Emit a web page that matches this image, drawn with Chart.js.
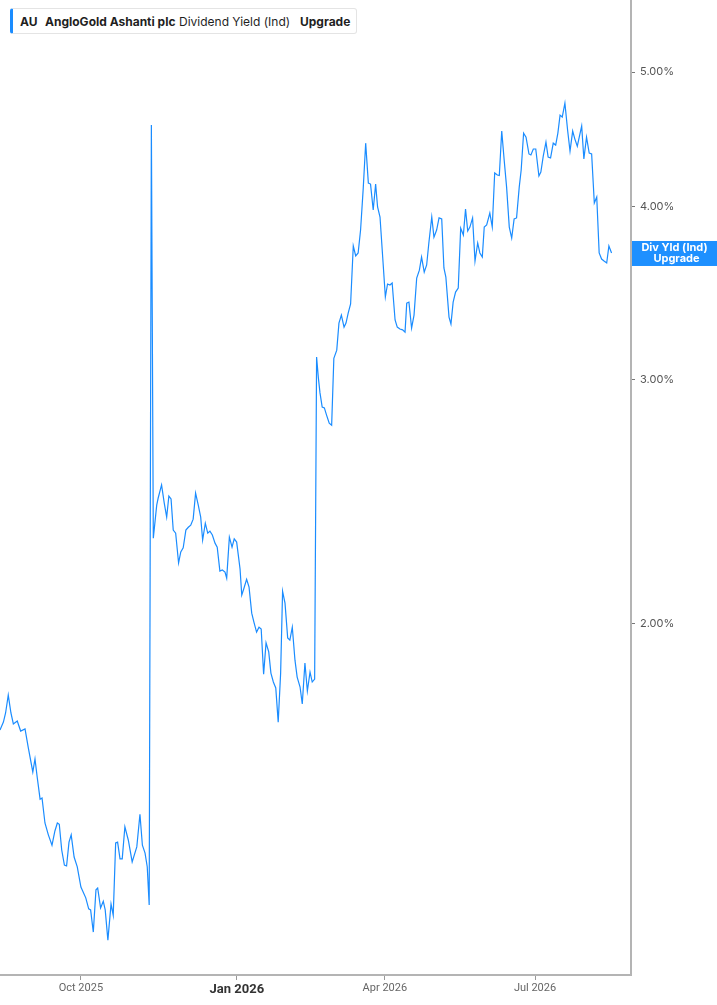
<!DOCTYPE html>
<html>
<head>
<meta charset="utf-8">
<script src="https://cdn.jsdelivr.net/npm/chart.js@4/dist/chart.umd.min.js"></script>
<style>
  body { margin: 0; background: #fff; }
  #wrap { position: relative; width: 717px; height: 1005px; }
  .legend {
    position: absolute; left: 10px; top: 8px; width: 343px; height: 24px;
    border: 1px solid #e4e4e4; border-left: 3px solid #1a8cff; border-radius: 3px;
    font-family: Inter, "Open Sans", sans-serif; font-size: 12px; color: #1f1f1f;
    background: #fff; z-index: 2;
  }
  .legend span { position: absolute; top: 5px; white-space: nowrap; }
  .b { font-weight: 700; }
</style>
</head>
<body>
<div id="wrap">
  <div class="legend">
    <span class="b" style="left:7px">AU</span>
    <span class="b" style="left:32px">AngloGold Ashanti plc</span>
    <span style="left:166px">Dividend Yield (Ind)</span>
    <span class="b" style="left:287px">Upgrade</span>
  </div>
  <canvas id="chart"></canvas>
</div>
<script>
// trading-day index from the start of the window
const dayIdx = [0,1.4,2.3,3.4,4.5,5.5,7.1,8.5,10.3,11.6,13.5,14.4,15.3,16.5,17.3,18.5,19.9,21.4,22.6,23.6,24.4,25.4,26.5,27.4,28.4,29.3,30.5,31.8,33.3,35.3,36.5,37.3,38.4,39.5,40.2,41.4,42.5,43.3,44.4,45.7,46.6,47.6,48.4,49.4,50.3,51.4,52.8,54.4,56.3,57.6,58.6,59.7,60.6,61.4,62.3,63.1,64.5,65.1,66.5,67.6,68.6,69.5,70.4,71.3,72.3,73.5,74.4,75.4,76.5,77.5,78.5,79.5,80.5,81.6,82.6,83.4,84.5,85.5,86.4,87.4,88.5,89.4,90.5,91.5,92.6,93.3,94.4,95.5,96.4,97.4,98.8,99.5,100.4,101.5,102.5,103.6,104.5,105.6,106.6,107.5,108.5,109.5,110.6,111.5,112.5,113.5,114.5,115.5,116.3,117.3,118.4,119.3,120.3,121.4,122.3,123.5,124.4,125.5,126.5,127.6,128.5,129.5,130.3,131.0,131.7,132.6,133.5,134.4,135.5,136.5,137.4,138.6,139.5,140.5,141.6,142.4,143.3,144.3,145.4,146.4,147.4,148.4,149.5,150.5,151.6,152.5,153.6,154.6,155.4,156.4,157.5,158.6,159.5,160.5,161.4,162.6,163.5,164.6,165.7,166.7,167.4,168.3,169.4,170.4,171.5,172.6,173.5,174.6,175.6,176.5,177.7,178.6,179.7,180.7,181.8,182.7,183.5,184.8,185.6,186.5,187.5,188.6,189.6,190.7,191.6,192.5,193.4,194.5,195.5,196.6,197.5,198.5,199.3,200.3,201.6,202.6,203.6,204.7,205.5,206.5,207.5,208.5,209.6,210.6,211.6,212.6,213.7,214.5,215.5,216.5,217.7,218.5,219.5,220.5,221.8,222.6,223.6,224.7,225.6,226.6,227.7,228.7,229.6,230.5,231.4,232.5,233.6,234.6,235.7,236.6,237.6,238.4,239.4,240.3,241.4,242.5,243.5,244.6,245.6,246.6,247.6,248.6,249.7,250.6,251.7];

// dividend yield (indicated), %
const yieldPct = [1.676,1.698,1.724,1.776,1.724,1.693,1.701,1.673,1.679,1.629,1.563,1.597,1.550,1.494,1.497,1.436,1.408,1.384,1.417,1.436,1.433,1.373,1.339,1.337,1.391,1.408,1.357,1.335,1.291,1.268,1.245,1.243,1.198,1.285,1.289,1.247,1.261,1.243,1.182,1.255,1.232,1.389,1.391,1.353,1.353,1.427,1.396,1.346,1.380,1.457,1.384,1.366,1.335,1.253,4.579,2.305,2.435,2.464,2.518,2.443,2.387,2.472,2.460,2.336,2.324,2.212,2.253,2.268,2.336,2.347,2.355,2.379,2.484,2.435,2.387,2.298,2.363,2.324,2.332,2.317,2.286,2.271,2.182,2.186,2.179,2.157,2.309,2.271,2.302,2.290,2.190,2.097,2.121,2.153,2.125,2.035,2.005,1.972,1.988,1.982,1.839,1.937,1.908,1.842,1.815,1.797,1.698,1.842,2.110,2.069,1.953,1.946,1.988,1.882,1.830,1.800,1.750,1.873,1.788,1.845,1.815,1.824,3.114,3.012,2.934,2.866,2.862,2.828,2.790,2.781,3.108,3.150,3.295,3.339,3.273,3.295,3.350,3.401,3.745,3.684,3.702,3.846,4.123,4.443,4.158,4.151,3.976,4.151,3.996,3.930,3.677,3.441,3.516,3.510,3.522,3.312,3.273,3.263,3.258,3.246,3.406,3.412,3.268,3.339,3.551,3.598,3.677,3.586,3.629,3.764,3.930,3.801,3.846,3.924,3.917,3.611,3.557,3.328,3.290,3.412,3.469,3.493,3.858,3.814,3.982,3.839,3.865,3.924,3.653,3.764,3.702,3.677,3.865,3.878,3.956,3.865,4.228,4.214,4.210,4.533,4.320,4.130,3.865,3.795,3.917,3.924,4.130,4.249,4.518,4.488,4.364,4.357,4.400,4.400,4.207,4.235,4.350,4.451,4.342,4.335,4.443,4.429,4.518,4.655,4.640,4.749,4.541,4.385,4.533,4.473,4.421,4.488,4.571,4.328,4.488,4.371,4.364,4.022,4.063,3.702,3.665,3.653,3.641,3.745,3.702];

const tickIdx = [33.3, 97.5, 158.4, 220.2];
const tickLabels = ['Oct 2025', 'Jan 2026', 'Apr 2026', 'Jul 2026'];
const yTicks = [2, 3, 4, 5];

const BLUE = '#1a8cff';

// blue tag on the right axis at the last value
const lastTag = {
  id: 'lastTag',
  afterDraw(chart) {
    const ctx = chart.ctx;
    const y = chart.scales.y.getPixelForValue(yieldPct[yieldPct.length - 1]);
    const x0 = chart.chartArea.right + 1;
    const w = chart.width - x0;
    ctx.save();
    ctx.fillStyle = '#1e90ff';
    ctx.fillRect(x0, y - 12, w, 25);
    ctx.fillStyle = '#fff';
    ctx.font = 'bold 11px Inter, "Open Sans", sans-serif';
    ctx.textAlign = 'center';
    ctx.textBaseline = 'middle';
    ctx.fillText('Div Yld (Ind)', x0 + w / 2, y - 5);
    ctx.fillText('Upgrade', x0 + w / 2 + 2, y + 6);
    ctx.restore();
  }
};

// no extra room around the plot for half-labels
const noPad = (s) => { s.paddingTop = 0; s.paddingBottom = 0; s.paddingLeft = 0; s.paddingRight = 0; };

new Chart(document.getElementById('chart'), {
  type: 'line',
  data: {
    datasets: [{
      data: dayIdx.map((d, i) => ({ x: d, y: yieldPct[i] })),
      borderColor: BLUE,
      borderWidth: 1.2,
      pointRadius: 0,
      tension: 0,
      fill: false,
    }],
  },
  options: {
    responsive: true,
    maintainAspectRatio: false,
    animation: false,
    layout: { padding: 0 },
    plugins: { legend: { display: false }, tooltip: { enabled: false } },
    scales: {
      x: {
        type: 'linear',
        min: 0,
        max: 259.7,
        afterBuildTicks: (s) => { s.ticks = tickIdx.map(v => ({ value: v })); },
        afterFit: (s) => { s.height = 30; noPad(s); },
        border: { color: '#b4b4b4', width: 2 },
        grid: { drawOnChartArea: false, tickLength: 5, color: '#999' },
        ticks: {
          maxRotation: 0,
          padding: 2,
          autoSkip: false,
          callback: (v) => tickLabels[tickIdx.indexOf(v)],
          color: (c) => c.index === 1 ? '#333' : '#666',
          font: (c) => c.index === 1
            ? { family: '"Liberation Sans Narrow", "Roboto", sans-serif', size: 13, weight: 'bold' }
            : { family: '"Liberation Sans Narrow", "Roboto", sans-serif', size: 11 },
        },
      },
      y: {
        type: 'logarithmic',
        position: 'right',
        min: 1.1155,
        max: 5.636,
        afterBuildTicks: (s) => { s.ticks = yTicks.map(v => ({ value: v })); },
        afterFit: (s) => { s.width = 86; noPad(s); },
        border: { color: '#b4b4b4', width: 2 },
        grid: { drawOnChartArea: false, tickLength: 4, color: '#777' },
        ticks: {
          padding: 5,
          color: '#555',
          font: { family: 'Inter, "Open Sans", sans-serif', size: 11 },
          callback: (v) => v.toFixed(2) + '%',
        },
      },
    },
  },
  plugins: [lastTag],
});
</script>
</body>
</html>
